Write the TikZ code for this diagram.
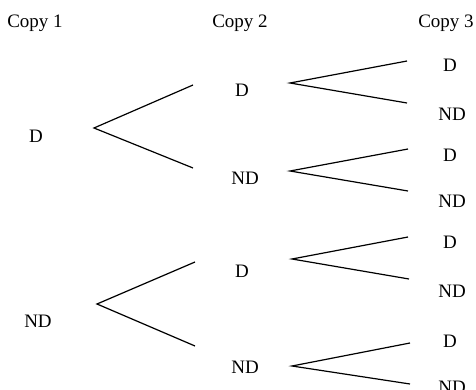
\documentclass[tikz,border=0pt]{standalone}
\usepackage{fontspec}
\setmainfont{Liberation Serif}
\usepackage{tikz}
\usetikzlibrary{positioning}
\tikzstyle{etiqueta} = [inner sep=0pt, anchor=base, font=\fontsize{19}{22}\selectfont]
\tikzstyle{rama} = [line width=1.2pt]

\begin{document}
\begin{tikzpicture}[x=1pt, y=-1pt]
	\useasboundingbox (0,0) rectangle (476,390);
	% titulos
	\node[etiqueta] (copia1) at (35,28) {Copy 1};
	\node[etiqueta] (copia2) at (240,28) {Copy 2};
	\node[etiqueta] (copia3) at (446,28) {Copy 3};
	% primera copia
	\node[etiqueta] (d) at (36,143) {D};
	\node[etiqueta] (nd) at (38,327) {ND};
	% segunda copia
	\node[etiqueta] (dd) at (242,97) {D};
	\node[etiqueta] (dnd) at (245,185) {ND};
	\node[etiqueta] (ndd) at (242,277) {D};
	\node[etiqueta] (ndnd) at (245,373) {ND};
	% tercera copia
	\node[etiqueta] (ddd) at (450,72) {D};
	\node[etiqueta] (ddnd) at (452,121) {ND};
	\node[etiqueta] (dndd) at (450,162) {D};
	\node[etiqueta] (dndnd) at (452,207) {ND};
	\node[etiqueta] (nddd) at (450,248) {D};
	\node[etiqueta] (nddnd) at (452,297) {ND};
	\node[etiqueta] (ndndd) at (450,347) {D};
	\node[etiqueta] (ndndnd) at (452,393) {ND};
	% puntos de las ramas
	\coordinate (d-o) at (94,128);
	\coordinate (nd-o) at (97,304);
	\coordinate (dd-i) at (193,85);
	\coordinate (dnd-i) at (193,168);
	\coordinate (ndd-i) at (195,262);
	\coordinate (ndnd-i) at (195,346);
	\coordinate (dd-o) at (290,83);
	\coordinate (dnd-o) at (290,171);
	\coordinate (ndd-o) at (292,259);
	\coordinate (ndnd-o) at (292,366);
	\coordinate (ddd-i) at (407,61);
	\coordinate (ddnd-i) at (407,103);
	\coordinate (dndd-i) at (408,149);
	\coordinate (dndnd-i) at (408,191);
	\coordinate (nddd-i) at (408,237);
	\coordinate (nddnd-i) at (409,279);
	\coordinate (ndndd-i) at (410,343);
	\coordinate (ndndnd-i) at (410,384);
	% ramas
	\draw[rama] (dd-i) -- (d-o) -- (dnd-i);
	\draw[rama] (ndd-i) -- (nd-o) -- (ndnd-i);
	\draw[rama] (ddd-i) -- (dd-o) -- (ddnd-i);
	\draw[rama] (dndd-i) -- (dnd-o) -- (dndnd-i);
	\draw[rama] (nddd-i) -- (ndd-o) -- (nddnd-i);
	\draw[rama] (ndndd-i) -- (ndnd-o) -- (ndndnd-i);
\end{tikzpicture}
\end{document}
